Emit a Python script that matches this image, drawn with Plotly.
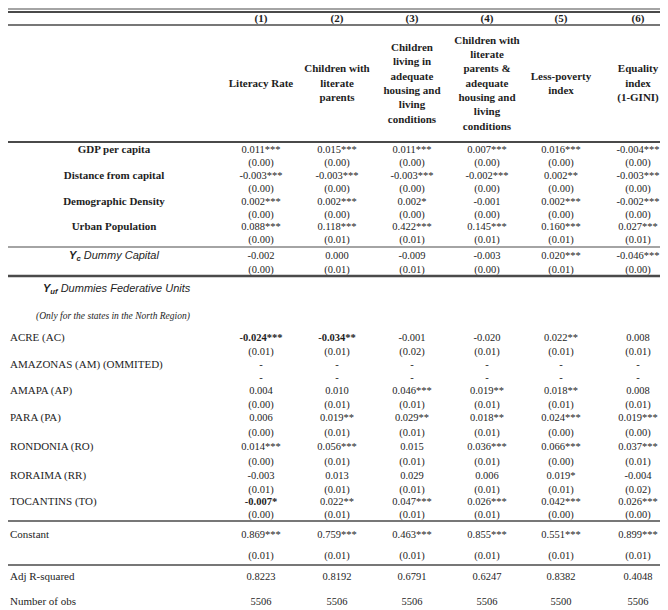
import plotly.graph_objects as go

# ---------------- data ----------------
col_numbers = ["(1)", "(2)", "(3)", "(4)", "(5)", "(6)"]
dep_vars = [
    "Literacy Rate",
    "Children with<br>literate<br>parents",
    "Children<br>living in<br>adequate<br>housing and<br>living<br>conditions",
    "Children with<br>literate<br>parents &<br>adequate<br>housing and<br>living<br>conditions",
    "Less-poverty<br>index",
    "Equality<br>index<br>(1-GINI)",
]

gdp_coef = ["0.011***", "0.015***", "0.011***", "0.007***", "0.016***", "-0.004***"]
gdp_se = ["(0.00)", "(0.00)", "(0.00)", "(0.00)", "(0.00)", "(0.00)"]
dist_coef = ["-0.003***", "-0.003***", "-0.003***", "-0.002***", "0.002**", "-0.003***"]
dist_se = ["(0.00)", "(0.00)", "(0.00)", "(0.00)", "(0.00)", "(0.00)"]
dens_coef = ["0.002***", "0.002***", "0.002*", "-0.001", "0.002***", "-0.002***"]
dens_se = ["(0.00)", "(0.00)", "(0.00)", "(0.00)", "(0.00)", "(0.00)"]
urban_coef = ["0.088***", "0.118***", "0.422***", "0.145***", "0.160***", "0.027***"]
urban_se = ["(0.00)", "(0.01)", "(0.01)", "(0.01)", "(0.01)", "(0.01)"]
capital_coef = ["-0.002", "0.000", "-0.009", "-0.003", "0.020***", "-0.046***"]
capital_se = ["(0.00)", "(0.01)", "(0.01)", "(0.00)", "(0.01)", "(0.00)"]

acre_coef = ["-0.024***", "-0.034**", "-0.001", "-0.020", "0.022**", "0.008"]
acre_se = ["(0.01)", "(0.01)", "(0.02)", "(0.01)", "(0.01)", "(0.01)"]
amazonas_coef = ["-", "-", "-", "-", "-", "-"]
amazonas_se = ["-", "-", "-", "-", "-", "-"]
amapa_coef = ["0.004", "0.010", "0.046***", "0.019**", "0.018**", "0.008"]
amapa_se = ["(0.00)", "(0.01)", "(0.01)", "(0.01)", "(0.01)", "(0.01)"]
para_coef = ["0.006", "0.019**", "0.029**", "0.018**", "0.024***", "0.019***"]
para_se = ["(0.00)", "(0.01)", "(0.01)", "(0.01)", "(0.00)", "(0.00)"]
rondonia_coef = ["0.014***", "0.056***", "0.015", "0.036***", "0.066***", "0.037***"]
rondonia_se = ["(0.00)", "(0.01)", "(0.01)", "(0.01)", "(0.00)", "(0.01)"]
roraima_coef = ["-0.003", "0.013", "0.029", "0.006", "0.019*", "-0.004"]
roraima_se = ["(0.01)", "(0.01)", "(0.01)", "(0.01)", "(0.01)", "(0.02)"]
tocantins_coef = ["-0.007*", "0.022**", "0.047***", "0.026***", "0.042***", "0.026***"]
tocantins_se = ["(0.00)", "(0.01)", "(0.01)", "(0.01)", "(0.00)", "(0.00)"]
constant_coef = ["0.869***", "0.759***", "0.463***", "0.855***", "0.551***", "0.899***"]
constant_se = ["(0.01)", "(0.01)", "(0.01)", "(0.01)", "(0.01)", "(0.01)"]
adj_r2 = ["0.8223", "0.8192", "0.6791", "0.6247", "0.8382", "0.4048"]
n_obs = ["5506", "5506", "5506", "5506", "5500", "5506"]

main_labels = ["GDP per capita", "Distance from capital", "Demographic Density", "Urban Population"]
capital_label = "<b><i>Y</i></b><sub><b><i>c</i></b></sub><i> Dummy Capital</i>"
uf_label = "<b><i>Y</i></b><sub><b><i>uf</i></b></sub><i> Dummies Federative Units</i>"
uf_note = "<i>(Only for the states in the North Region)</i>"
state_labels = ["ACRE (AC)", "AMAZONAS (AM) (OMMITED)", "AMAPA (AP)", "PARA (PA)",
                "RONDONIA (RO)", "RORAIMA (RR)", "TOCANTINS (TO)"]
stat_labels = ["Constant", "Adj R-squared", "Number of obs"]

# ---------------- layout (positions / styles) ----------------
W, H = 668, 610
col_x = [253, 329, 404, 479, 553, 630]
serif = "Liberation Serif"
sans = "Liberation Sans"
ink = "#1e1e1e"
rule = "#4a4a4a"

main_rows = [
    (main_labels[0], gdp_coef, gdp_se, 142, 155),
    (main_labels[1], dist_coef, dist_se, 168, 181),
    (main_labels[2], dens_coef, dens_se, 194, 207),
    (main_labels[3], urban_coef, urban_se, 219, 232),
]
state_rows = [
    (state_labels[0], acre_coef, acre_se, 330, 344),
    (state_labels[1], amazonas_coef, amazonas_se, 357, 370),
    (state_labels[2], amapa_coef, amapa_se, 383, 397),
    (state_labels[3], para_coef, para_se, 410, 425),
    (state_labels[4], rondonia_coef, rondonia_se, 439, 454),
    (state_labels[5], roraima_coef, roraima_se, 468, 482),
    (state_labels[6], tocantins_coef, tocantins_se, 494, 507),
]
bold_cells = {(0, 0), (0, 1), (6, 0)}  # (state row, column)

fig = go.Figure()

def add_text(xs, ys, texts, size=10.5, family=serif, pos="middle center", color=ink):
    fig.add_trace(go.Scatter(
        x=xs, y=ys, text=texts, mode="text", textposition=pos,
        textfont=dict(family=family, size=size, color=color),
        hoverinfo="skip", showlegend=False, cliponaxis=False))

# header
add_text(col_x, [11] * 6, ["<b>%s</b>" % c for c in col_numbers], size=11)
add_text(col_x, [76] * 6, ["<b>%s</b>" % d for d in dep_vars], size=11)

# value cells
xs, ys, ts = [], [], []
for label, coef, se, yc, ys_ in main_rows:
    for j in range(6):
        xs += [col_x[j], col_x[j]]
        ys += [yc, ys_]
        ts += [coef[j], se[j]]
for j in range(6):
    xs += [col_x[j], col_x[j]]
    ys += [248, 262]
    ts += [capital_coef[j], capital_se[j]]
for i, (label, coef, se, yc, ys_) in enumerate(state_rows):
    for j in range(6):
        c = "<b>%s</b>" % coef[j] if (i, j) in bold_cells else coef[j]
        xs += [col_x[j], col_x[j]]
        ys += [yc, ys_]
        ts += [c, se[j]]
for j in range(6):
    xs += [col_x[j], col_x[j], col_x[j], col_x[j]]
    ys += [527, 548, 569, 594]
    ts += [constant_coef[j], constant_se[j], adj_r2[j], n_obs[j]]
add_text(xs, ys, ts, size=10.5)

# row labels
add_text([106] * 4, [r[3] for r in main_rows], ["<b>%s</b>" % r[0] for r in main_rows], size=11)
add_text([106], [248], [capital_label], size=11, family=sans)
add_text([35], [281], [uf_label], size=11, family=sans, pos="middle right")
add_text([28], [309], [uf_note], size=9.5, pos="middle right")
add_text([2] * 7, [r[3] for r in state_rows], [r[0] for r in state_rows], size=11, pos="middle right")
add_text([2] * 3, [527, 569, 594], stat_labels, size=11, pos="middle right")

# horizontal rules
rules = [(1, 1.2), (4, 1.8), (17, 1.4), (134, 2), (239, 1.2), (268, 2.5),
         (513, 1.5), (557, 1.6), (606, 2)]
shapes = [dict(type="line", xref="x", yref="y", x0=0, x1=W, y0=y, y1=y,
               line=dict(color=rule, width=w)) for y, w in rules]

fig.update_layout(
    width=W, height=H, autosize=False,
    margin=dict(l=0, r=0, t=0, b=0),
    paper_bgcolor="white", plot_bgcolor="white",
    xaxis=dict(range=[0, W], visible=False, fixedrange=True),
    yaxis=dict(range=[H, 0], visible=False, fixedrange=True),
    shapes=shapes,
)

fig.write_html("out.html")
